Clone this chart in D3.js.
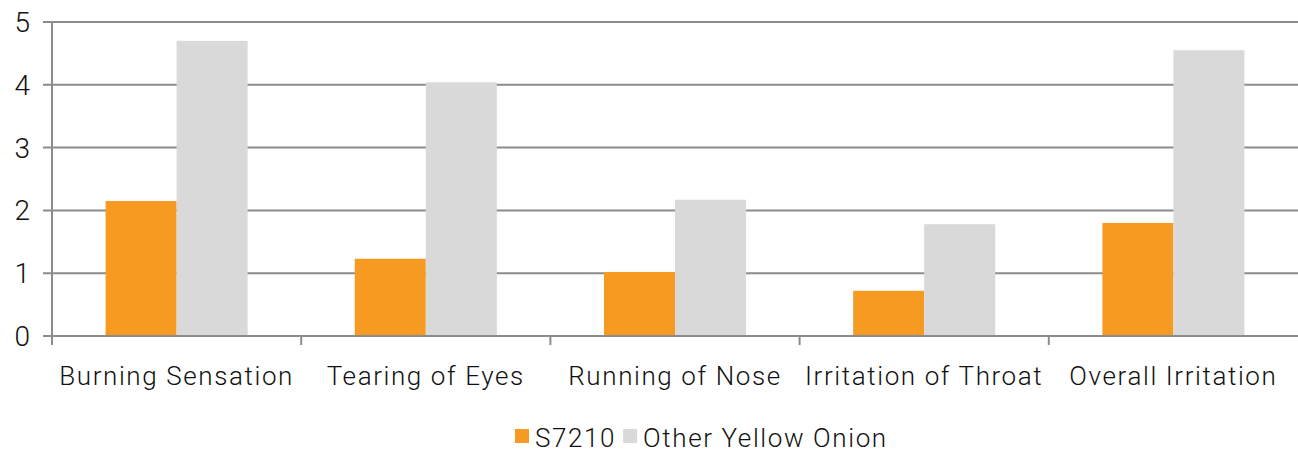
<!DOCTYPE html>
<html>
<head>
<meta charset="utf-8">
<script src="https://cdn.jsdelivr.net/npm/d3@7"></script>
<style>
  body { margin: 0; background: #fff; }
  text { font-family: Roboto, "Liberation Sans", sans-serif; font-weight: 300; fill: #111; }
</style>
</head>
<body>
<div id="chart"></div>
<script>
// data
var categories = ["Burning Sensation", "Tearing of Eyes", "Running of Nose", "Irritation of Throat", "Overall Irritation"];
var seriesNames = ["S7210", "Other Yellow Onion"];
var s7210 = [2.15, 1.23, 1.02, 0.72, 1.80];
var otherYellow = [4.70, 4.04, 2.17, 1.78, 4.55];
var yTicks = [0, 1, 2, 3, 4, 5];
var colors = ["#f79a22", "#d9d9d9"];

var W = 1298, H = 452;
var margin = {top: 22, right: 0, bottom: 116, left: 52},
    width = W - margin.left - margin.right,
    height = H - margin.top - margin.bottom;

var svg = d3.select("#chart").append("svg")
    .attr("width", W).attr("height", H)
  .append("g")
    .attr("transform", "translate(" + margin.left + "," + margin.top + ")");

var x = d3.scaleBand().domain(categories).range([0, width]).padding(0);
var x1 = d3.scaleBand().domain(seriesNames).range([x.bandwidth() * 0.215, x.bandwidth() * 0.785]);
var y = d3.scaleLinear().domain([0, 5]).range([height, 0]);

// gridlines
svg.selectAll(".grid").data(yTicks).enter().append("line")
  .attr("x1", -9).attr("x2", width)
  .attr("y1", function(d) { return y(d); }).attr("y2", function(d) { return y(d); })
  .attr("stroke", "#8c8c8c").attr("stroke-width", 2);

// y tick labels
svg.selectAll(".ylab").data(yTicks).enter().append("text")
  .attr("x", -22).attr("y", function(d) { return y(d); })
  .attr("dy", "0.36em")
  .style("text-anchor", "end").style("font-size", "28px")
  .text(function(d) { return d; });

// bars
var rows = categories.map(function(c, i) { return {cat: c, vals: [s7210[i], otherYellow[i]]}; });
var groups = svg.selectAll(".grp").data(rows).enter().append("g")
  .attr("transform", function(d) { return "translate(" + x(d.cat) + ",0)"; });
groups.selectAll("rect").data(function(d) { return d.vals.map(function(v, j) { return {s: seriesNames[j], v: v, j: j}; }); })
  .enter().append("rect")
  .attr("x", function(d) { return x1(d.s); })
  .attr("width", x1.bandwidth())
  .attr("y", function(d) { return y(d.v); })
  .attr("height", function(d) { return height - y(d.v); })
  .attr("fill", function(d) { return colors[d.j]; });

// x axis line, y axis line, category ticks
svg.append("line").attr("x1", 0).attr("x2", width).attr("y1", height).attr("y2", height)
  .attr("stroke", "#8c8c8c").attr("stroke-width", 2);
svg.append("line").attr("x1", 0).attr("x2", 0).attr("y1", 0).attr("y2", height + 9)
  .attr("stroke", "#8c8c8c").attr("stroke-width", 2);
svg.selectAll(".xtick").data(categories.slice(1)).enter().append("line")
  .attr("x1", function(d) { return x(d); }).attr("x2", function(d) { return x(d); })
  .attr("y1", height).attr("y2", height + 9)
  .attr("stroke", "#8c8c8c").attr("stroke-width", 2);

// category labels
svg.selectAll(".xlab").data(categories).enter().append("text")
  .attr("x", function(d) { return x(d) + x.bandwidth() / 2; })
  .attr("y", height + 49)
  .style("text-anchor", "middle").style("font-size", "26px").style("letter-spacing", "1.6px")
  .text(function(d) { return d; });

// legend
var legend = svg.append("g").attr("transform", "translate(" + (515 - margin.left) + "," + (429 - margin.top) + ")");
var lx = 0;
seriesNames.forEach(function(n, i) {
  legend.append("rect").attr("x", lx).attr("y", 0).attr("width", 14).attr("height", 14).attr("fill", colors[i]);
  var t = legend.append("text").attr("x", lx + 20).attr("y", 18)
    .style("font-size", "26px").style("letter-spacing", "1.6px").text(n);
  lx += 20 + t.node().getComputedTextLength() + 7;
});
</script>
</body>
</html>
